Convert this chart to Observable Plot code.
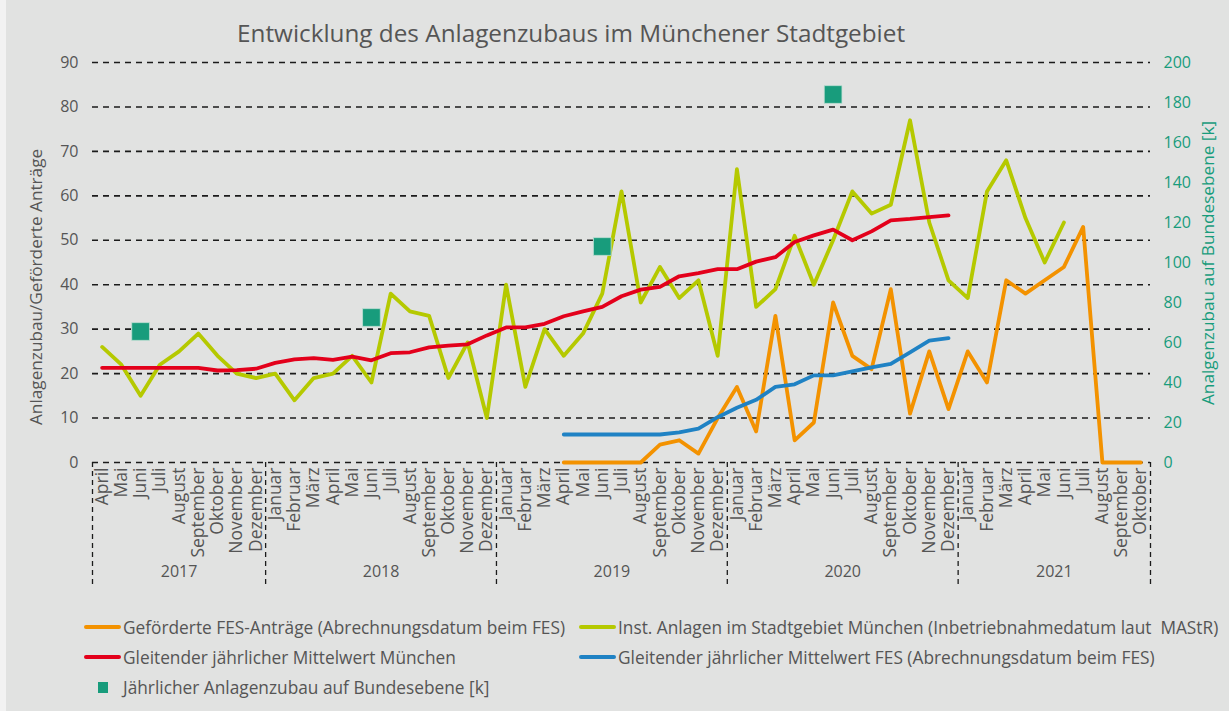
<!DOCTYPE html>
<html>
<head>
<meta charset="utf-8">
<script src="https://cdn.jsdelivr.net/npm/d3@7"></script>
<script src="https://cdn.jsdelivr.net/npm/@observablehq/plot@0.6"></script>
<style>
  html, body { margin: 0; padding: 0; background: #f2f2f2; }
  #wrap { position: absolute; left: 6px; top: 0; width: 1223px; height: 711px; background: #e1e2e1; overflow: hidden; font-family: "Open Sans", sans-serif; color: #555; }
  #chart { position: absolute; left: -6px; top: 0; }
  #title { position: absolute; left: 231px; top: 16px; font-size: 24.3px; color: #555; white-space: nowrap; }
  .axt { position: absolute; white-space: nowrap; font-size: 17.2px; transform-origin: 0 0; }
  .leg { position: absolute; font-size: 17.3px; color: #555; white-space: pre; }
  .sw { position: absolute; height: 4px; border-radius: 2px; }
</style>
</head>
<body>
<div id="wrap">
  <div id="chart"></div>
  <div id="title">Entwicklung des Anlagenzubaus im Münchener Stadtgebiet</div>
  <div id="legend"></div>
</div>
<script>
// ---------- data ----------
const monthNames = ["Januar","Februar","März","April","Mai","Juni","Juli","August","September","Oktober","November","Dezember"];
const years = [2017, 2018, 2019, 2020, 2021];
const firstYear = 2017, firstMonth = 3;   // April 2017
const nMonths = 55;                        // April 2017 .. Oktober 2021

// Inst. Anlagen im Stadtgebiet München (from April 2017)
const instStart = 0;
const instValues = [26,22,15,22,25,29,24,20,19,
  20,14,19,20,24,18,38,34,33,19,27,10,
  40,17,30,24,29,38,61,36,44,37,41,24,
  66,35,39,51,40,50,61,56,58,77,54,41,
  37,61,68,55,45,54];

// Gleitender jährlicher Mittelwert München (from April 2017)
const muenStart = 0;
const muenValues = [21.3,21.3,21.3,21.3,21.3,21.3,20.7,20.8,21.1,
  22.4,23.2,23.5,23.1,23.8,23.0,24.6,24.8,25.9,26.3,26.6,28.6,
  30.4,30.4,31.2,32.9,34.0,35.0,37.4,38.9,39.5,41.9,42.6,43.5,
  43.5,45.2,46.2,49.6,51.1,52.4,50.0,52.0,54.5,54.8,55.2,55.6];

// Geförderte FES-Anträge (from April 2019)
const fesStart = 24;
const fesValues = [0,0,0,0,0,4,5,2,10,
  17,7,33,5,9,36,24,21,39,11,25,12,
  25,18,41,38,41,44,53,0,0,0];

// Gleitender jährlicher Mittelwert FES (from April 2019)
const fesAvgStart = 24;
const fesAvgValues = [6.3,6.3,6.3,6.3,6.3,6.3,6.8,7.6,10.2,
  12.3,14.1,17.0,17.6,19.6,19.6,20.5,21.4,22.2,24.8,27.4,28.0];

// Jährlicher Anlagenzubau auf Bundesebene [k] (plotted at Juni)
const bundMonths = [2, 14, 26, 38];
const bundValues = [65.5, 72.5, 108, 184];

const leftTicks = d3.range(0, 91, 10);
const rightTicks = d3.range(0, 201, 20);

// ---------- derived ----------
const labels = d3.range(nMonths).map(i => monthNames[(firstMonth + i) % 12]);
const yearOf = i => firstYear + Math.floor((firstMonth + i) / 12);
const series = (start, vals) => vals.map((v, k) => ({i: start + k, v}));
const inst = series(instStart, instValues);
const muen = series(muenStart, muenValues);
const fes = series(fesStart, fesValues);
const fesAvg = series(fesAvgStart, fesAvgValues);
const bund = bundMonths.map((i, k) => ({i, v: bundValues[k]}));
const k = 90 / 200; // right axis -> left axis units

// year boundaries and centers (in month-index units)
const yearInfo = years.map(y => {
  const idx = d3.range(nMonths).filter(i => yearOf(i) === y);
  return {year: y, lo: idx[0] - 0.5, hi: idx[idx.length - 1] + 0.5, mid: (idx[0] + idx[idx.length - 1]) / 2};
});
const bounds = [yearInfo[0].lo, ...yearInfo.map(d => d.hi)];

const C = {
  orange: "#f39200", green: "#b5c900", red: "#e3001b", blue: "#1f82c4", teal: "#189c7c",
  grid: "#1b1b1b", text: "#555555"
};

const plot = Plot.plot({
  width: 1229,
  height: 600,
  marginTop: 62,
  marginBottom: 138,
  marginLeft: 92,
  marginRight: 79,
  style: {background: "transparent", fontFamily: "'Open Sans', sans-serif", color: C.text},
  x: {type: "linear", domain: [-0.5, nMonths - 0.5]},
  y: {domain: [0, 90]},
  marks: [
    Plot.ruleY(leftTicks, {stroke: C.grid, strokeWidth: 1.6, strokeDasharray: "6,5"}),
    Plot.ruleX(bounds, {stroke: C.grid, strokeWidth: 1.3, strokeDasharray: "5,4", insetTop: 400, insetBottom: -124}),
    Plot.axisX(d3.range(nMonths), {
      anchor: "bottom", tickSize: 0, tickPadding: 5, tickRotate: -90,
      tickFormat: i => labels[i], fontSize: 17.5, fill: C.text, label: null
    }),
    Plot.text(yearInfo, {x: "mid", frameAnchor: "bottom", dy: 114, text: d => String(d.year), fontSize: 16, fill: C.text}),
    Plot.axisY(leftTicks, {anchor: "left", tickSize: 0, tickPadding: 14, fontSize: 16, fill: C.text, label: null}),
    Plot.axisY(rightTicks.map(v => v * k), {
      anchor: "right", tickSize: 0, tickPadding: 13, fontSize: 16, fill: C.teal, label: null,
      tickFormat: d => String(Math.round(d / k))
    }),
    Plot.line(fes, {x: "i", y: "v", stroke: C.orange, strokeWidth: 3.8}),
    Plot.line(inst, {x: "i", y: "v", stroke: C.green, strokeWidth: 3.8}),
    Plot.line(muen, {x: "i", y: "v", stroke: C.red, strokeWidth: 3.8}),
    Plot.line(fesAvg, {x: "i", y: "v", stroke: C.blue, strokeWidth: 3.8}),
    Plot.dot(bund, {x: "i", y: d => d.v * k, symbol: "square", r: 10, fill: C.teal, stroke: "#bfe0d4", strokeWidth: 0.8})
  ]
});
document.getElementById("chart").appendChild(plot);

// axis titles (positions relative to #wrap, which is offset by 6px)
const wrap = document.getElementById("wrap");
function vtext(txt, cx, cy, color) {
  const d = document.createElement("div");
  d.className = "axt";
  d.textContent = txt;
  d.style.color = color;
  wrap.appendChild(d);
  const w = d.offsetWidth, h = d.offsetHeight;
  d.style.left = (cx - 6 - h / 2) + "px";
  d.style.top = (cy + w / 2) + "px";
  d.style.transform = "rotate(-90deg)";
}
vtext("Anlagenzubau/Geförderte Anträge", 35, 287, C.text);
vtext("Analgenzubau auf Bundesebene [k]", 1207, 263, C.teal);

// legend
const legendItems = [
  {label: "Geförderte FES-Anträge (Abrechnungsdatum beim FES)", color: C.orange, type: "line", x: 84, y: 627},
  {label: "Inst. Anlagen im Stadtgebiet München (Inbetriebnahmedatum laut  MAStR)", color: C.green, type: "line", x: 579, y: 627},
  {label: "Gleitender jährlicher Mittelwert München", color: C.red, type: "line", x: 84, y: 657},
  {label: "Gleitender jährlicher Mittelwert FES (Abrechnungsdatum beim FES)", color: C.blue, type: "line", x: 579, y: 657},
  {label: "Jährlicher Anlagenzubau auf Bundesebene [k]", color: C.teal, type: "square", x: 84, y: 687}
];
const leg = document.getElementById("legend");
for (const it of legendItems) {
  const s = document.createElement("div");
  if (it.type === "line") {
    s.className = "sw";
    s.style.left = (it.x - 6) + "px";
    s.style.top = (it.y - 2) + "px";
    s.style.width = "37px";
    s.style.background = it.color;
  } else {
    s.style.position = "absolute";
    s.style.left = (98 - 6) + "px";
    s.style.top = (it.y - 5) + "px";
    s.style.width = "10px";
    s.style.height = "11px";
    s.style.background = it.color;
  }
  leg.appendChild(s);
  const t = document.createElement("div");
  t.className = "leg";
  t.textContent = it.label;
  leg.appendChild(t);
  const h = t.offsetHeight;
  t.style.left = (it.x + 39 - 6) + "px";
  t.style.top = (it.y - h / 2) + "px";
}
</script>
</body>
</html>
